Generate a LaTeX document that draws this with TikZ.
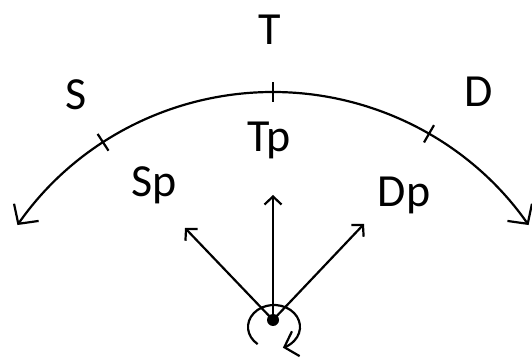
\documentclass[tikz,border=0pt]{standalone}
\usepackage{fontspec}
\setmainfont{Carlito}
\usetikzlibrary{arrows.meta,positioning}

\begin{document}
\begin{tikzpicture}[x=1pt,y=1pt,line width=2.2pt,
    lbl/.style={font=\fontsize{46}{50}\selectfont,inner sep=0pt,anchor=base},
    bigtip/.style={{Straight Barb[length=14pt,width=30pt]}-{Straight Barb[length=14pt,width=30pt]}},
    vectip/.style={-{Straight Barb[length=8pt,width=17pt]}},
    rottip/.style={-{Straight Barb[length=12pt,width=26pt]}}]
    \useasboundingbox (0,0) rectangle (532,358);
    \coordinate (ctr) at (273,-46);
    %% the big arc with its ticks
    \draw[bigtip] ([shift={(145:312)}]ctr)
        arc[start angle=145,end angle=35,radius=312];
    \foreach \ang/\nm in {123/s,90/t,60/d}{
        \coordinate (\nm in) at ([shift={(\ang:302)}]ctr);
        \coordinate (\nm out) at ([shift={(\ang:322)}]ctr);
        \draw (\nm in) -- (\nm out);
    }
    \node[lbl] (S) at (76,248) {S};
    \node[lbl] (T) at (270,313) {T};
    \node[lbl] (D) at (479,251) {D};
    %%
    \fill (273,38) circle (6) coordinate (o);
    \coordinate (sp tip) at (185,130);
    \coordinate (tp tip) at (273,163);
    \coordinate (dp tip) at (364,134);
    \draw[vectip] (o) -- (sp tip);
    \draw[vectip] (o) -- (tp tip);
    \draw[vectip] (o) -- (dp tip);
    \node[lbl] (Sp) at (154,161) {Sp};
    \node[lbl] (Tp) at (269,206) {Tp};
    \node[lbl] (Dp) at (404,151) {Dp};
    %% rotation round the dot
    \coordinate (rc) at (274,31);
    \draw[rottip] ([shift={(231:26 and 22)}]rc)
        arc[start angle=231,end angle=-70,x radius=26,y radius=22];
\end{tikzpicture}
\end{document}
